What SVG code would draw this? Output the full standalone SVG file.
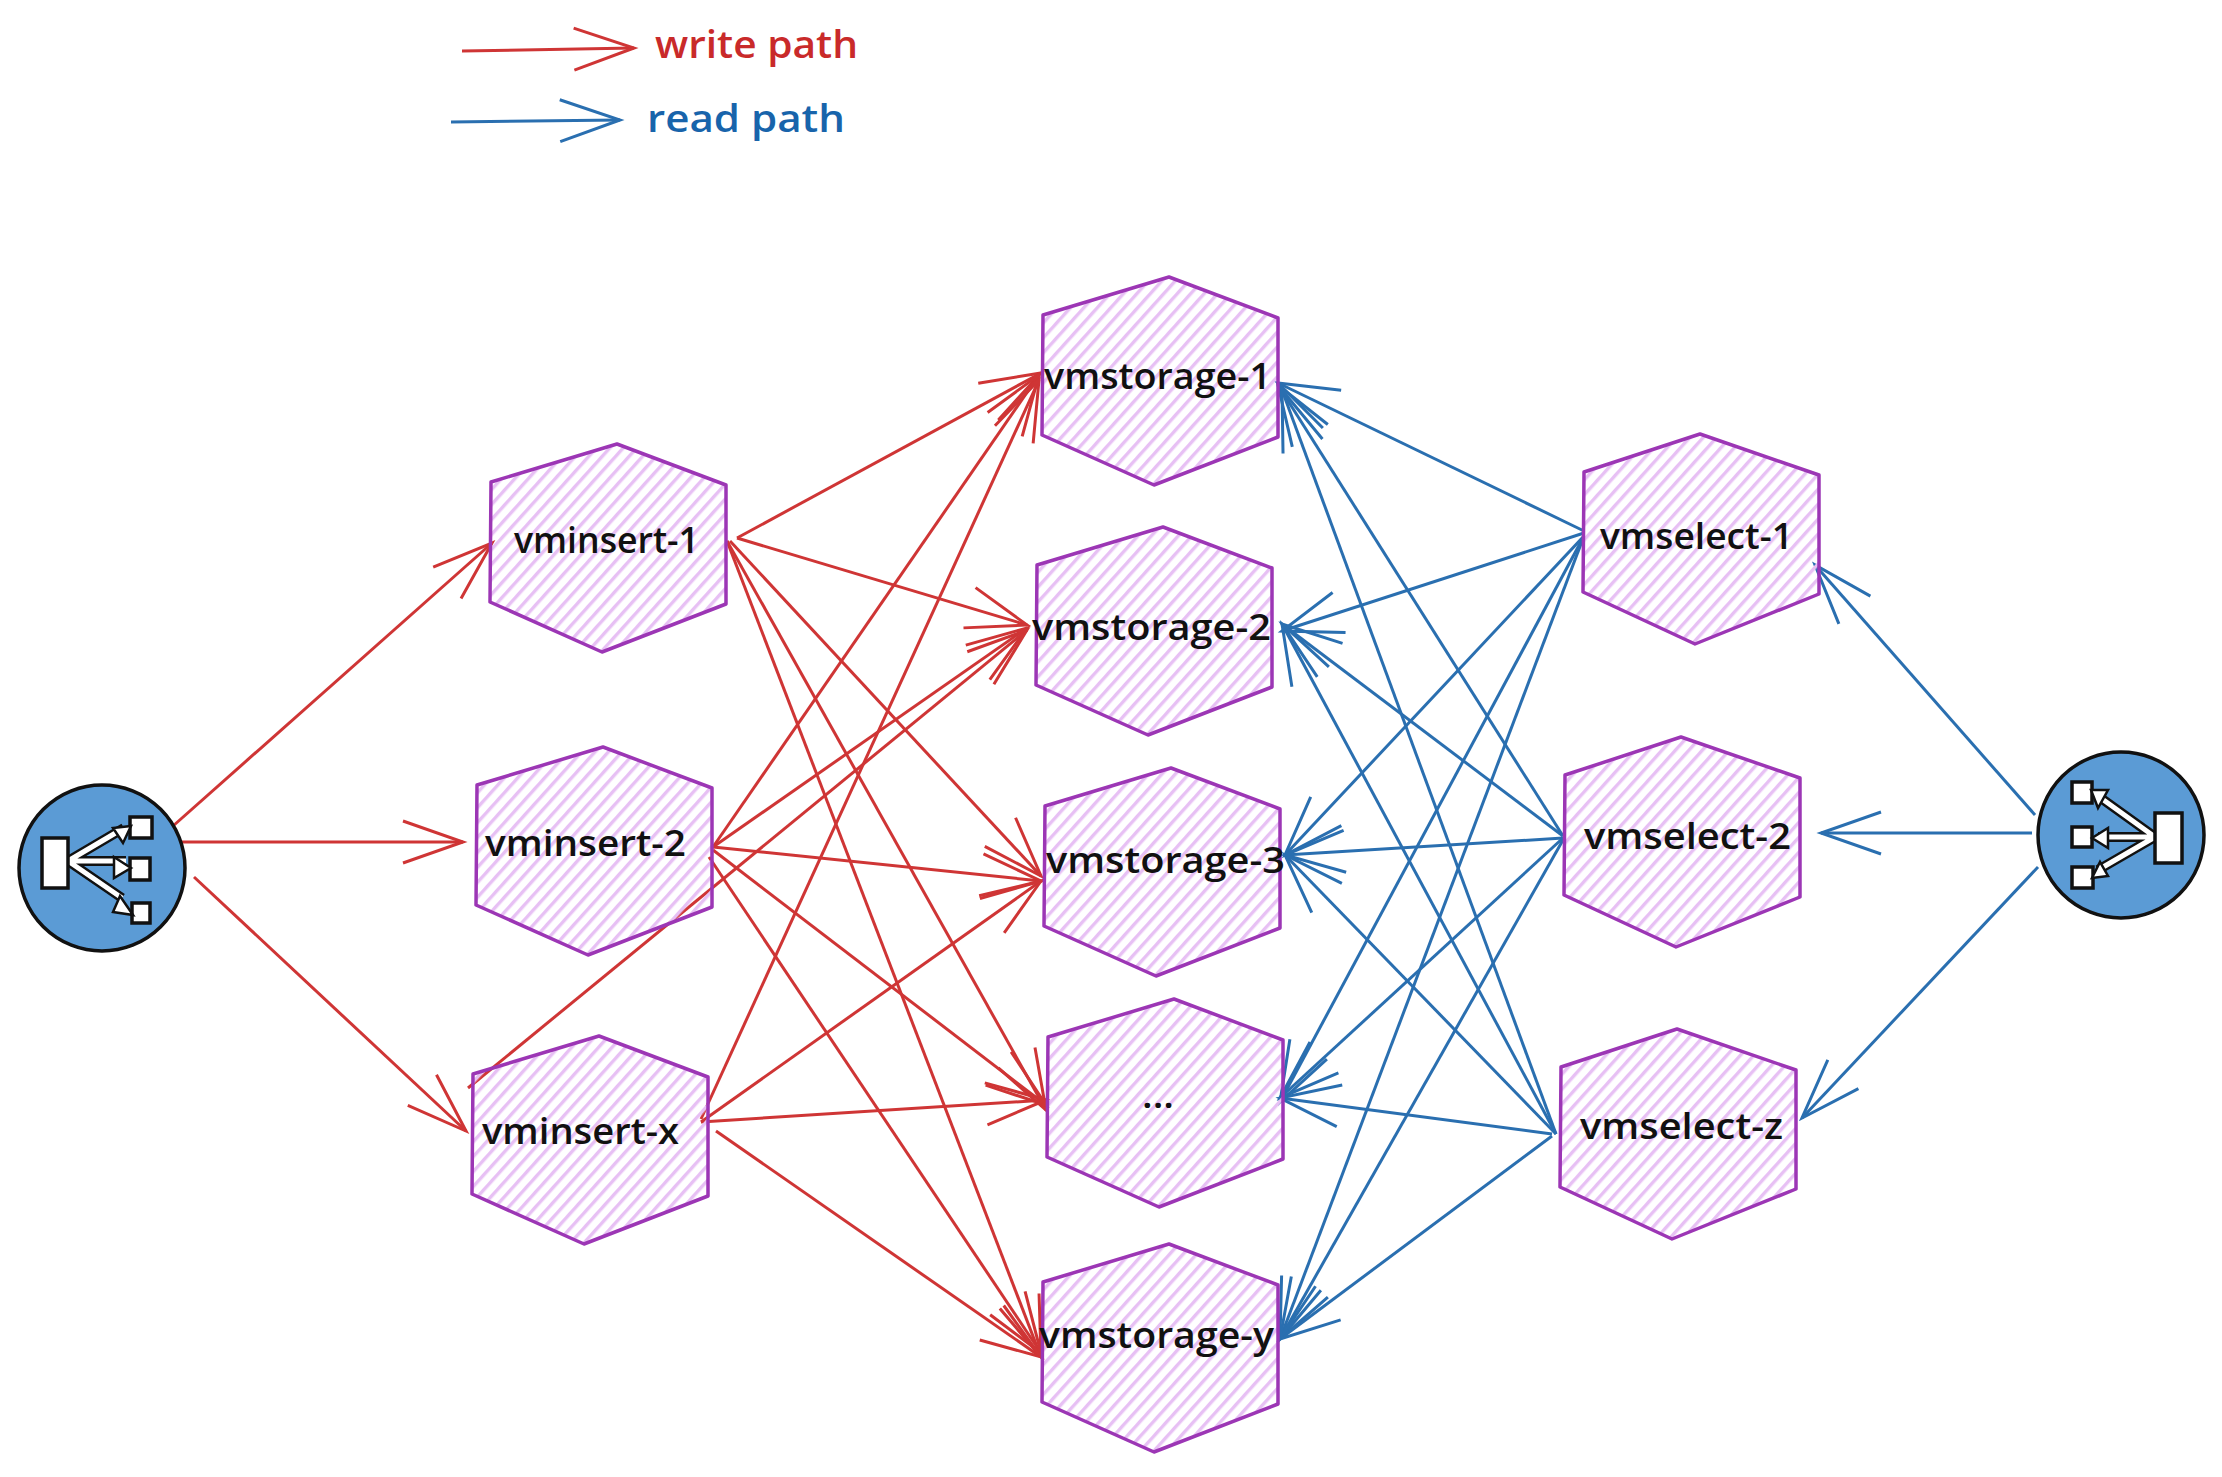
<svg xmlns="http://www.w3.org/2000/svg" width="2222" height="1477" viewBox="0 0 2222 1477">
<style>
text{font-family:"Open Sans","Noto Sans","DejaVu Sans",sans-serif}
.lbl{font-size:36px;font-weight:600;fill:#111}
.hex{fill:url(#hach);stroke:#9c36b5;stroke-width:3.5;stroke-linejoin:round}
.w{stroke:#cf3535;stroke-width:3;fill:none;marker-end:url(#hw)}
.r{stroke:#2a6fb0;stroke-width:3;fill:none;marker-end:url(#hr)}
.disc{fill:#5b9bd5;stroke:#111;stroke-width:3.5}
.box{fill:#fff;stroke:#111;stroke-width:3.5}
.sh1{stroke:#111;stroke-width:10;fill:none}
.sh2{stroke:#fff;stroke-width:5;fill:none}
.tip{fill:#fff;stroke:#111;stroke-width:2.5}
</style>
<defs>
<pattern id="hach" width="10" height="10" patternUnits="userSpaceOnUse" patternTransform="rotate(42)"><rect width="3.4" height="10" fill="#e7c0f4"/></pattern>
<marker id="hw" markerUnits="userSpaceOnUse" markerWidth="80" markerHeight="60" refX="64" refY="25" orient="auto" overflow="visible"><path d="M4,4L64,25L4,46" fill="none" stroke="#cf3535" stroke-width="3"/></marker>
<marker id="hr" markerUnits="userSpaceOnUse" markerWidth="80" markerHeight="60" refX="64" refY="25" orient="auto" overflow="visible"><path d="M4,4L64,25L4,46" fill="none" stroke="#2a6fb0" stroke-width="3"/></marker>
<path id="hexa" class="hex" d="M1,38L127,0L236,41L236,160L112,208L0,158Z"/>
<path id="hexb" class="hex" d="M1,38L117,0L236,41L236,160L112,210L0,158Z"/>
</defs>
<rect width="2222" height="1477" fill="#fff"/>
<g id="connectors">
<line class="w" x1="462" y1="51" x2="634" y2="48"/>
<line class="r" x1="451" y1="122" x2="620" y2="120"/>
<line class="w" x1="173" y1="826" x2="492" y2="543"/>
<line class="w" x1="181" y1="842" x2="463" y2="842"/>
<line class="w" x1="194" y1="877" x2="466" y2="1131"/>
<line class="w" x1="737" y1="538" x2="1041" y2="373"/>
<line class="w" x1="737" y1="538" x2="1027" y2="625"/>
<line class="w" x1="730" y1="541" x2="1041" y2="876"/>
<line class="w" x1="727" y1="541" x2="1046" y2="1110"/>
<line class="w" x1="727" y1="541" x2="1041" y2="1357"/>
<line class="w" x1="713" y1="847" x2="1039" y2="375"/>
<line class="w" x1="713" y1="847" x2="1027" y2="628"/>
<line class="w" x1="713" y1="847" x2="1041" y2="881"/>
<line class="w" x1="713" y1="850" x2="1046" y2="1105"/>
<line class="w" x1="709" y1="857" x2="1041" y2="1353"/>
<line class="w" x1="468" y1="1088" x2="1027" y2="630"/>
<line class="w" x1="701" y1="1119" x2="1039" y2="380"/>
<line class="w" x1="701" y1="1122" x2="1041" y2="881"/>
<line class="w" x1="701" y1="1122" x2="1046" y2="1100"/>
<line class="w" x1="716" y1="1131" x2="1041" y2="1357"/>
<line class="r" x1="2035" y1="815" x2="1815" y2="565"/>
<line class="r" x1="2032" y1="833" x2="1821" y2="833"/>
<line class="r" x1="2038" y1="867" x2="1802" y2="1118"/>
<line class="r" x1="1584" y1="531" x2="1278" y2="383"/>
<line class="r" x1="1584" y1="533" x2="1282" y2="631"/>
<line class="r" x1="1584" y1="536" x2="1285" y2="855"/>
<line class="r" x1="1584" y1="536" x2="1280" y2="1102"/>
<line class="r" x1="1584" y1="536" x2="1280" y2="1339"/>
<line class="r" x1="1563" y1="836" x2="1278" y2="385"/>
<line class="r" x1="1563" y1="836" x2="1282" y2="624"/>
<line class="r" x1="1563" y1="838" x2="1285" y2="855"/>
<line class="r" x1="1563" y1="838" x2="1280" y2="1098"/>
<line class="r" x1="1563" y1="840" x2="1280" y2="1339"/>
<line class="r" x1="1556" y1="1134" x2="1282" y2="390"/>
<line class="r" x1="1556" y1="1134" x2="1282" y2="624"/>
<line class="r" x1="1556" y1="1134" x2="1285" y2="855"/>
<line class="r" x1="1552" y1="1134" x2="1280" y2="1098"/>
<line class="r" x1="1552" y1="1136" x2="1280" y2="1339"/>
</g>
<g id="legend">
<text x="655" y="58" font-size="37" font-weight="600" fill="#c92a2a" textLength="203" lengthAdjust="spacingAndGlyphs">write path</text>
<text x="647" y="132" font-size="37" font-weight="600" fill="#1864ab" textLength="198" lengthAdjust="spacingAndGlyphs">read path</text>
</g>
<g id="balancer-left">
<circle class="disc" cx="102" cy="868" r="83"/>
<path class="sh1" d="M68,861L124,828M68,861H126M68,861L122,898"/>
<path class="sh2" d="M68,861L124,828M68,861H126M68,861L122,898"/>
<rect class="box" x="42" y="838" width="26" height="50"/>
<rect class="box" x="130" y="817" width="22" height="21"/>
<rect class="box" x="130" y="858" width="20" height="22"/>
<rect class="box" x="132" y="903" width="18" height="20"/>
<path class="tip" d="M131,826L113,828L123,843Z"/>
<path class="tip" d="M131,868L114,857L114,878Z"/>
<path class="tip" d="M133,915L120,896L113,912Z"/>
</g>
<g id="balancer-right">
<circle class="disc" cx="2121" cy="835" r="83"/>
<path class="sh1" d="M2155,837L2098,796M2155,837H2098M2155,837L2098,870"/>
<path class="sh2" d="M2155,837L2098,796M2155,837H2098M2155,837L2098,870"/>
<rect class="box" x="2155" y="813" width="27" height="50"/>
<rect class="box" x="2072" y="782" width="20" height="21"/>
<rect class="box" x="2072" y="827" width="20" height="20"/>
<rect class="box" x="2072" y="867" width="21" height="21"/>
<path class="tip" d="M2091,790L2108,790L2098,808Z"/>
<path class="tip" d="M2092,838L2108,828L2108,848Z"/>
<path class="tip" d="M2092,878L2100,862L2108,876Z"/>
</g>
<g id="vminsert-1"><use href="#hexa" x="490" y="444"/><text class="lbl" x="514" y="553" textLength="185" lengthAdjust="spacingAndGlyphs">vminsert-1</text></g>
<g id="vminsert-2"><use href="#hexa" x="476" y="747"/><text class="lbl" x="485" y="856" textLength="201" lengthAdjust="spacingAndGlyphs">vminsert-2</text></g>
<g id="vminsert-x"><use href="#hexa" x="472" y="1036"/><text class="lbl" x="482" y="1144" textLength="197" lengthAdjust="spacingAndGlyphs">vminsert-x</text></g>
<g id="vmstorage-1"><use href="#hexa" x="1042" y="277"/><text class="lbl" x="1044" y="389" textLength="227" lengthAdjust="spacingAndGlyphs">vmstorage-1</text></g>
<g id="vmstorage-2"><use href="#hexa" x="1036" y="527"/><text class="lbl" x="1032" y="640" textLength="239" lengthAdjust="spacingAndGlyphs">vmstorage-2</text></g>
<g id="vmstorage-3"><use href="#hexa" x="1044" y="768"/><text class="lbl" x="1046" y="873" textLength="239" lengthAdjust="spacingAndGlyphs">vmstorage-3</text></g>
<g id="vmstorage-dots"><use href="#hexa" x="1047" y="999"/><text class="lbl" x="1142" y="1108" textLength="32" lengthAdjust="spacingAndGlyphs">...</text></g>
<g id="vmstorage-y"><use href="#hexa" x="1042" y="1244"/><text class="lbl" x="1039" y="1348" textLength="235" lengthAdjust="spacingAndGlyphs">vmstorage-y</text></g>
<g id="vmselect-1"><use href="#hexb" x="1583" y="434"/><text class="lbl" x="1600" y="549" textLength="193" lengthAdjust="spacingAndGlyphs">vmselect-1</text></g>
<g id="vmselect-2"><use href="#hexb" x="1564" y="737"/><text class="lbl" x="1584" y="849" textLength="207" lengthAdjust="spacingAndGlyphs">vmselect-2</text></g>
<g id="vmselect-z"><use href="#hexb" x="1560" y="1029"/><text class="lbl" x="1580" y="1139" textLength="203" lengthAdjust="spacingAndGlyphs">vmselect-z</text></g>
</svg>
